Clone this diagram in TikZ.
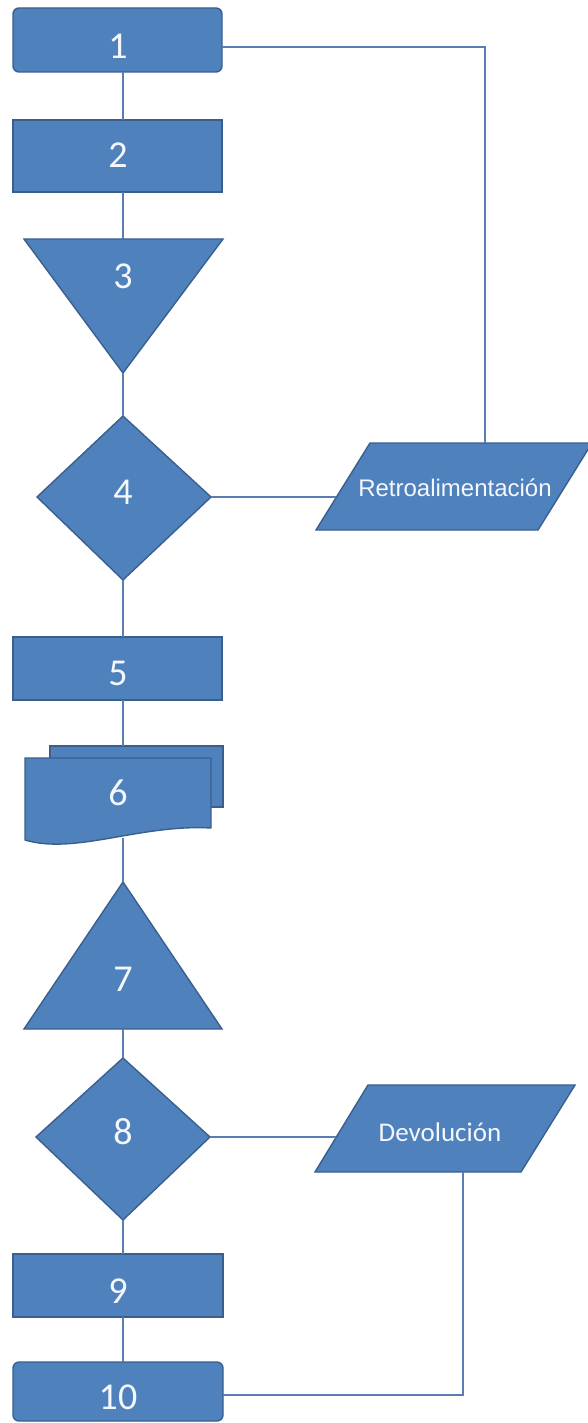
\documentclass[tikz,border=0pt]{standalone}
\usepackage{fontspec}
\setmainfont{Carlito}
\newfontfamily\arialf{Liberation Sans}
\definecolor{boxblue}{HTML}{4F81BD}
\definecolor{boxedge}{HTML}{3A5F8E}
\definecolor{linecol}{HTML}{5C7DB3}
\definecolor{txt}{HTML}{F4F7FB}
\tikzset{
  shp/.style={fill=boxblue, draw=boxedge, line width=1.4pt, line join=miter},
  conn/.style={draw=linecol, line width=1.5pt},
  num/.style={text=txt, font=\fontsize{38}{40}\selectfont, inner sep=0pt},
  lbl/.style={text=txt, inner sep=0pt},
}
\begin{document}
\begin{tikzpicture}[x=1pt,y=-1pt]
\useasboundingbox (0,0) rectangle (588,1423);
\clip (0,0) rectangle (588,1423);
\fill[white] (0,0) rectangle (588,1423);
% shapes
\draw[shp, rounded corners=6pt] (13,8) rectangle (222,72);
\draw[shp] (13,120) rectangle (222,192);
\draw[shp] (24,239) -- (223,239) -- (123,373) -- cycle;
\draw[shp] (123,416) -- (211,497) -- (123,580) -- (37,497) -- cycle;
\draw[shp] (316,530) -- (538,530) -- (592,443) -- (370,443) -- cycle;
\draw[shp] (13,637) rectangle (222,700);
\draw[shp] (50,746) rectangle (223,807);
\draw[shp] (25,758) -- (211,758) -- (211,828) .. controls (140,824) and (75,855) .. (25,840) -- cycle;
\draw[shp] (123,882) -- (222,1029) -- (24,1029) -- cycle;
\draw[shp] (123,1058) -- (210,1137) -- (123,1220) -- (36,1137) -- cycle;
\draw[shp] (315,1172) -- (521,1172) -- (575,1085) -- (368,1085) -- cycle;
\draw[shp] (13,1254) rectangle (223,1317);
\draw[shp, rounded corners=6pt] (13,1362) rectangle (223,1421);
% named anchors
\coordinate (b1s) at (123,72);
\coordinate (b1e) at (222,47);
\coordinate (b2n) at (123,120);
\coordinate (b2s) at (123,192);
\coordinate (t3n) at (123,239);
\coordinate (t3s) at (123,373);
\coordinate (d4n) at (123,416);
\coordinate (d4e) at (211,497);
\coordinate (d4s) at (123,580);
\coordinate (rw) at (336,497);
\coordinate (rn) at (485,443);
\coordinate (b5n) at (123,637);
\coordinate (b5s) at (123,700);
\coordinate (m6n) at (123,746);
\coordinate (m6s) at (123,838);
\coordinate (t7n) at (123,882);
\coordinate (t7s) at (123,1029);
\coordinate (d8n) at (123,1058);
\coordinate (d8e) at (210,1137);
\coordinate (d8s) at (123,1220);
\coordinate (dw) at (336,1137);
\coordinate (ds) at (463,1172);
\coordinate (b9n) at (123,1254);
\coordinate (b9s) at (123,1317);
\coordinate (b10n) at (123,1362);
\coordinate (b10e) at (223,1395);
% connectors
\draw[conn] (b1s) -- (b2n);
\draw[conn] (b2s) -- (t3n);
\draw[conn] (t3s) -- (d4n);
\draw[conn] (d4s) -- (b5n);
\draw[conn] (b5s) -- (m6n);
\draw[conn] (m6s) -- (t7n);
\draw[conn] (t7s) -- (d8n);
\draw[conn] (d8s) -- (b9n);
\draw[conn] (b9s) -- (b10n);
\draw[conn] (b1e) -| (rn);
\draw[conn] (d4e) -- (rw);
\draw[conn] (d8e) -- (dw);
\draw[conn] (ds) |- (b10e);
% texts
\node[num] (n1) at (118,46) {1};
\node[num] (n2) at (118,155) {2};
\node[num] (n3) at (123,276) {3};
\node[num] (n4) at (123,492) {4};
\node[num] (n5) at (118,673) {5};
\node[num] (n6) at (118,793) {6};
\node[num] (n7) at (123,979) {7};
\node[num] (n8) at (123,1132) {8};
\node[num] (n9) at (118,1291) {9};
\node[num] (n10) at (118,1397) {10};
\node[lbl, font=\arialf\fontsize{24}{26}\selectfont] (retro) at (455,488) {Retroalimentación};
\node[lbl, font=\fontsize{27}{29}\selectfont] (devo) at (440,1132) {Devolución};
\end{tikzpicture}
\end{document}
